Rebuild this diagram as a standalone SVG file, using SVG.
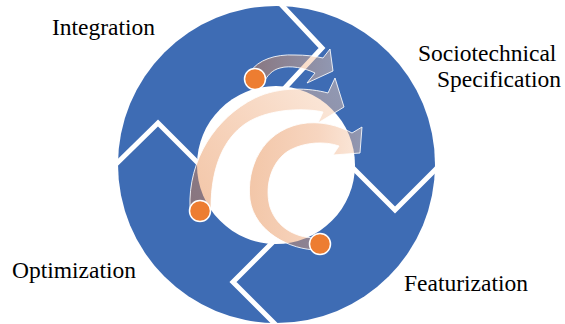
<svg xmlns="http://www.w3.org/2000/svg" width="565" height="324" viewBox="0 0 565 324">
<style>
.lbl{font-size:23.5px;fill:#000}
.div{fill:none;stroke:#fff;stroke-width:5;stroke-linejoin:miter}
.arr{stroke:#fff;stroke-width:1;stroke-opacity:0.85;stroke-linejoin:miter}
.dot{fill:#ED7D31;stroke:#fff;stroke-width:1.5}
</style>
<defs>
<linearGradient id="g1" gradientUnits="userSpaceOnUse" x1="250" y1="0" x2="334" y2="0">
<stop offset="0" stop-color="#E4823F" stop-opacity="0.45"/>
<stop offset="1" stop-color="#F6CEB1" stop-opacity="0.45"/>
</linearGradient>
<linearGradient id="g2" gradientUnits="userSpaceOnUse" x1="195" y1="200" x2="345" y2="95">
<stop offset="0" stop-color="#E4823F" stop-opacity="0.45"/>
<stop offset="0.5" stop-color="#EEA676" stop-opacity="0.45"/>
<stop offset="1" stop-color="#F6CEB1" stop-opacity="0.45"/>
</linearGradient>
<linearGradient id="g3" gradientUnits="userSpaceOnUse" x1="250" y1="0" x2="363" y2="0">
<stop offset="0" stop-color="#E4823F" stop-opacity="0.45"/>
<stop offset="0.6" stop-color="#EDA272" stop-opacity="0.45"/>
<stop offset="1" stop-color="#F6CEB1" stop-opacity="0.45"/>
</linearGradient>
</defs>
<g id="ring">
<circle cx="276.5" cy="164.5" r="158.5" fill="#3E6CB4"/>
<polyline class="div" points="276,-1 322,48 270,104"/>
<polyline class="div" points="108,172 158,123 210,175"/>
<polyline class="div" points="343,158 395,210 447,158"/>
<polyline class="div" points="286,229 233,282 282,331"/>
<circle cx="276" cy="165" r="79" fill="#fff"/>
</g>
<g id="connectors">
<path id="arrow1" class="arr" fill="url(#g1)" d="M250,72 C258,60 275,54 295,55 C305,55 315,56 323,58 L330,49 L333,71 L307,83 L315,73 C305,68 290,65 280,68 C272,70 267,76 264,82 Z"/>
<path id="arrow2" class="arr" fill="url(#g2)" d="M190,208 C188,160 215,118 255,98 C280,86 310,88 328,93 L335,78 L344,107 L318,123 L323,112 C300,107 265,110 245,124 C225,138 211,165 211,208 Z"/>
<path id="arrow3" class="arr" fill="url(#g3)" d="M318,250 C290,250 255,232 250,200 C246,168 262,132 300,124 C320,120 340,126 352,133 L362,127 L360,153 L333,155 L339,146 C325,141 305,142 290,150 C272,160 264,185 270,207 C277,228 295,237 314,238 Z"/>
<circle class="dot" cx="255" cy="79" r="10.5"/>
<circle class="dot" cx="200" cy="211" r="10.5"/>
<circle class="dot" cx="320" cy="244" r="10.5"/>
</g>
<g font-family="'Liberation Serif', 'DejaVu Serif', serif">
<g id="node-integration"><text class="lbl" x="52" y="35">Integration</text></g>
<g id="node-specification"><text class="lbl" x="418" y="61">Sociotechnical</text><text class="lbl" x="437" y="87">Specification</text></g>
<g id="node-featurization"><text class="lbl" x="404" y="291">Featurization</text></g>
<g id="node-optimization"><text class="lbl" x="12" y="278">Optimization</text></g>
</g>
</svg>
